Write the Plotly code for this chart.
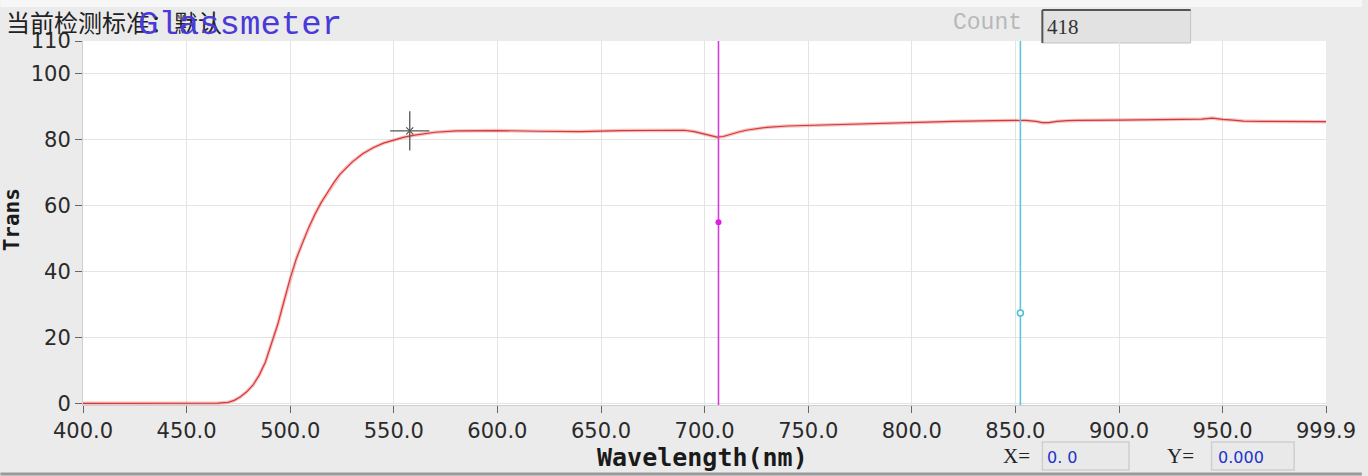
import plotly.graph_objects as go

# ---- data ----
wavelength = [400, 420, 440, 460, 465, 470, 473, 476, 479, 482, 485, 488, 491, 494, 497,
              500, 503, 506, 509, 512, 515, 518, 521, 524, 527, 530, 535, 540, 545, 550,
              555, 560, 565, 570, 580, 590, 600, 620, 640, 660, 680, 690, 695, 700, 703,
              706, 709, 712, 716, 720, 725, 730, 740, 750, 770, 790, 800, 820, 840, 850,
              855, 860, 863, 866, 870, 875, 880, 900, 920, 940, 945, 948, 950, 955, 960,
              970, 980, 990, 999.9]
trans = [0, 0, 0, 0, 0.05, 0.3, 0.9, 2, 3.5, 5.5, 8.5, 12.5, 18, 24, 31,
         38, 44, 49, 53.5, 57.5, 61, 64, 67, 69.5, 71.5, 73.3, 75.8, 77.6, 79, 80,
         80.8, 81.4, 81.9, 82.3, 82.7, 82.8, 82.8, 82.6, 82.5, 82.8, 83, 82.9, 82.5, 81.8, 81.2,
         80.8, 81, 81.6, 82.3, 82.9, 83.4, 83.8, 84.2, 84.4, 84.8, 85.2, 85.4, 85.6, 85.8, 85.9,
         85.9, 85.6, 85.2, 85.2, 85.6, 85.8, 85.9, 86, 86.1, 86.3, 86.6, 86.3, 86.2, 86, 85.7,
         85.6, 85.6, 85.5, 85.5]

x_ticks = [400, 450, 500, 550, 600, 650, 700, 750, 800, 850, 900, 950, 999.9]
x_tick_labels = ["400.0", "450.0", "500.0", "550.0", "600.0", "650.0", "700.0",
                 "750.0", "800.0", "850.0", "900.0", "950.0", "999.9"]
y_ticks = [0, 20, 40, 60, 80, 100, 110]
y_tick_labels = ["0", "20", "40", "60", "80", "100", "110"]

cursor1_x = 706.7   # magenta cursor
cursor1_y = 55
cursor2_x = 852.4   # cyan cursor
cursor2_y = 27.4
cross_x = 557.7     # crosshair marker
cross_y = 82.7

y_range = [-0.5, 110]

count_value = "418"
x_value = "0. 0"
y_value = "0.000"

L, R, T, B = 83, 36, 41, 71
W, H = 1368, 476
PW = W - L - R
PH = H - T - B

fig = go.Figure()

# halo under the curve
fig.add_trace(go.Scatter(x=wavelength, y=trans, mode="lines",
                         line=dict(color="rgba(240,120,120,0.45)", width=3.5),
                         hoverinfo="skip", showlegend=False))
fig.add_trace(go.Scatter(x=wavelength, y=trans, mode="lines",
                         line=dict(color="#d23a3a", width=1.2),
                         showlegend=False))

# vertical cursors
fig.add_trace(go.Scatter(x=[cursor1_x, cursor1_x], y=y_range, mode="lines",
                         line=dict(color="#d23fd6", width=1.6), showlegend=False))
fig.add_trace(go.Scatter(x=[cursor1_x], y=[cursor1_y], mode="markers",
                         marker=dict(color="#e020e0", size=6, symbol="circle"),
                         showlegend=False))
fig.add_trace(go.Scatter(x=[cursor2_x, cursor2_x], y=y_range, mode="lines",
                         line=dict(color="#5cc6dc", width=1.6), showlegend=False))
fig.add_trace(go.Scatter(x=[cursor2_x], y=[cursor2_y], mode="markers",
                         marker=dict(color="white", size=6, symbol="circle",
                                     line=dict(color="#4fbcd6", width=1.5)),
                         showlegend=False))

# crosshair
fig.add_trace(go.Scatter(x=[cross_x], y=[cross_y], mode="markers",
                         marker=dict(symbol="cross-thin", size=28,
                                     line=dict(color="#555555", width=1.3)),
                         showlegend=False))
fig.add_trace(go.Scatter(x=[cross_x], y=[cross_y], mode="markers",
                         marker=dict(symbol="x-thin", size=7,
                                     line=dict(color="#555555", width=1.2)),
                         showlegend=False))

tick_font = dict(family="DejaVu Sans", size=21, color="#2a2a2a")

fig.update_layout(
    width=W, height=H,
    margin=dict(l=L, r=R, t=T, b=B),
    paper_bgcolor="#ebebeb",
    plot_bgcolor="#ffffff",
    showlegend=False,
    xaxis=dict(range=[400, 999.9], tickvals=x_ticks, ticktext=x_tick_labels,
               showgrid=True, gridcolor="#e4e4e4", gridwidth=1,
               ticks="outside", ticklen=7, tickcolor="#666666", tickwidth=1,
               showline=True, linecolor="#cfcfcf", zeroline=False,
               tickfont=tick_font),
    yaxis=dict(range=y_range, tickvals=y_ticks, ticktext=y_tick_labels,
               showgrid=True, gridcolor="#e4e4e4", gridwidth=1,
               ticks="outside", ticklen=7, tickcolor="#666666", tickwidth=1,
               showline=True, linecolor="#cfcfcf", zeroline=False,
               tickfont=tick_font),
)

def px(xp):
    return (xp - L) / float(PW)

def py(yp):
    return (H - B - yp) / float(PH)

annotations = [
    dict(text="当前检测标准：默认", x=px(4), y=py(22), xanchor="left", yanchor="middle",
         font=dict(family="Noto Sans CJK SC", size=24, color="#222222")),
    dict(text="Glassmeter", x=px(136), y=py(25), xanchor="left", yanchor="middle",
         font=dict(family="Liberation Mono", size=34, color="#4a3ad8")),
    dict(text="Count", x=px(955), y=py(23), xanchor="left", yanchor="middle",
         font=dict(family="Liberation Mono", size=23, color="#b8b8b8")),
    dict(text=count_value, x=px(1050), y=py(27), xanchor="left", yanchor="middle",
         font=dict(family="Liberation Serif", size=21, color="#333333")),
    dict(text="Wavelength(nm)", x=px(705), y=py(457), xanchor="center", yanchor="middle",
         font=dict(family="DejaVu Sans Mono", size=25, color="#1a1a1a", weight="bold")),
    dict(text="Trans", x=px(12), y=py(220), xanchor="center", yanchor="middle", textangle=-90,
         font=dict(family="DejaVu Sans Mono", size=21, color="#1a1a1a", weight="bold")),
    dict(text="X=", x=px(1005), y=py(456), xanchor="left", yanchor="middle",
         font=dict(family="Liberation Serif", size=21, color="#222222")),
    dict(text=x_value, x=px(1050), y=py(457), xanchor="left", yanchor="middle",
         font=dict(family="DejaVu Sans", size=16, color="#2233cc")),
    dict(text="Y=", x=px(1170), y=py(456), xanchor="left", yanchor="middle",
         font=dict(family="Liberation Serif", size=21, color="#222222")),
    dict(text=y_value, x=px(1221), y=py(457), xanchor="left", yanchor="middle",
         font=dict(family="DejaVu Sans", size=16, color="#2233cc")),
]
for a in annotations:
    a.update(xref="paper", yref="paper", showarrow=False)
fig.update_layout(annotations=annotations)

shapes = [
    # top light strip
    dict(type="rect", x0=px(0), x1=px(W), y0=py(7), y1=py(0),
         fillcolor="#f7f7f7", line=dict(width=0), layer="below"),
    # count box
    dict(type="rect", x0=px(1047), x1=px(1196), y0=py(43), y1=py(10),
         fillcolor="#e2e2e2", line=dict(color="#c4c4c4", width=1), layer="below"),
    dict(type="line", x0=px(1047), x1=px(1196), y0=py(10), y1=py(10),
         line=dict(color="#555555", width=2)),
    dict(type="line", x0=px(1047), x1=px(1047), y0=py(43), y1=py(10),
         line=dict(color="#555555", width=2)),
    # X= box
    dict(type="rect", x0=px(1047), x1=px(1134), y0=py(470), y1=py(442),
         fillcolor="#e9e9e9", line=dict(color="#cfcfcf", width=1.5), layer="below"),
    # Y= box
    dict(type="rect", x0=px(1217), x1=px(1300), y0=py(470), y1=py(442),
         fillcolor="#e9e9e9", line=dict(color="#cfcfcf", width=1.5), layer="below"),
    # bottom dark edge
    dict(type="line", x0=px(0), x1=px(W), y0=py(474), y1=py(474),
         line=dict(color="#9a9a9a", width=3)),
]
for s in shapes:
    s.update(xref="paper", yref="paper")
fig.update_layout(shapes=shapes)

fig.write_html("out.html", config={"displayModeBar": False},
               post_script="document.body.style.margin='0';document.body.style.overflow='hidden';")
